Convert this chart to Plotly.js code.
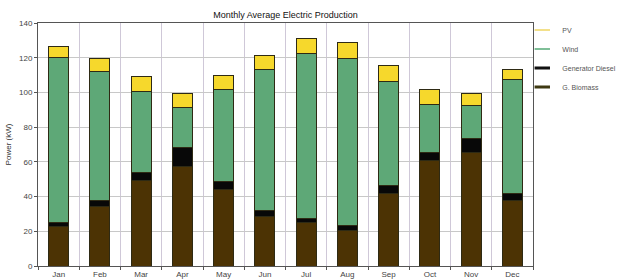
<!DOCTYPE html>
<html>
<head>
<meta charset="utf-8">
<script src="https://cdn.plot.ly/plotly-3.0.1.min.js"></script>
<style>html,body{margin:0;padding:0;background:#fff;}#chart{width:624px;height:280px;}</style>
</head>
<body>
<div id="chart"></div>
<script>
const months = ["Jan","Feb","Mar","Apr","May","Jun","Jul","Aug","Sep","Oct","Nov","Dec"];
const biomass = [23, 34.2, 49.5, 57.6, 44.2, 28.4, 25.3, 20.7, 41.9, 60.7, 65.3, 38];
const diesel  = [2, 3.8, 4.5, 10.8, 4.2, 3.5, 2.2, 2.5, 4.6, 4.6, 8.3, 3.5];
const wind    = [95.2, 74, 46.4, 23, 53.2, 81.4, 94.8, 96.1, 59.7, 27.7, 18.8, 66.1];
const pv      = [6, 7.4, 8.5, 7.7, 8, 8.1, 8.5, 9.2, 9.6, 8.6, 6.7, 5.7];

const seriesNames = ["PV", "Wind", "Generator Diesel", "G. Biomass"];
const colors = {"PV":"#f6d82c", "Wind":"#5ea877", "Generator Diesel":"#080808", "G. Biomass":"#4c3304"};
const legendLine = {"PV":{c:"#f3e08a",w:2}, "Wind":{c:"#7fbf98",w:2}, "Generator Diesel":{c:"#111",w:3}, "G. Biomass":{c:"#3f3a12",w:3}};

function bar(name, vals){
  return {type:"bar", x:months, y:vals, name:name, showlegend:false,
    marker:{color:colors[name], line:{color:"#2e2a14", width:1}}, hoverinfo:"y+name"};
}
const traces = [bar("G. Biomass", biomass), bar("Generator Diesel", diesel), bar("Wind", wind), bar("PV", pv)];
seriesNames.forEach(n => {
  traces.push({type:"scatter", mode:"markers", x:[null], y:[null], name:n, showlegend:true,
    marker:{symbol:"line-ew", size:11, color:legendLine[n].c, line:{color:legendLine[n].c, width:legendLine[n].w}}});
});

const layout = {
  width:624, height:280,
  margin:{l:38, r:91, t:23, b:14, pad:0, autoexpand:false},
  paper_bgcolor:"#fff", plot_bgcolor:"#fff",
  font:{family:"Liberation Sans, Arial, sans-serif", size:8, color:"#444"},
  title:{text:"Monthly Average Electric Production", x:0.4575, xanchor:"center", y:0.946, yanchor:"middle",
    font:{family:"Liberation Sans, Arial, sans-serif", size:9, color:"#111"}},
  barmode:"stack", bargap:0.52,
  xaxis:{type:"category", tickson:"boundaries", showgrid:true, gridcolor:"#cfc8d8", gridwidth:1,
    ticks:"outside", ticklen:3, tickcolor:"#555", showline:true, linecolor:"#555", linewidth:1, mirror:true,
    tickfont:{size:8, color:"#444"}, fixedrange:true, automargin:false},
  yaxis:{range:[0,140], dtick:20, showgrid:true, gridcolor:"#c8c8c8", gridwidth:1,
    ticks:"outside", ticklen:3, tickcolor:"#555", showline:true, linecolor:"#555", linewidth:1, mirror:true,
    zeroline:false, tickfont:{size:8, color:"#444"}, automargin:false,
    title:{text:"Power (kW)", standoff:6, font:{size:8, color:"#333"}}, fixedrange:true},
  legend:{xref:"container", yref:"container", x:0.837, xanchor:"left", y:0.945, yanchor:"top", traceorder:"normal",
    font:{size:7, color:"#555"}, bgcolor:"rgba(0,0,0,0)", itemwidth:30, tracegroupgap:0}
};
Plotly.newPlot("chart", traces, layout, {displayModeBar:false, staticPlot:true});
</script>
</body>
</html>
